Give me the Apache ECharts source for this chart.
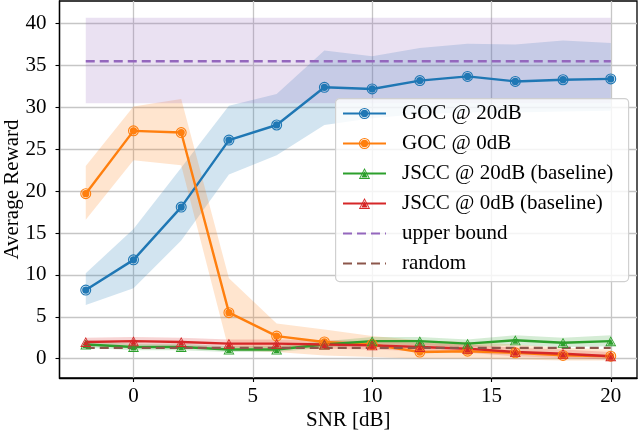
<!DOCTYPE html>
<html><head><meta charset="utf-8">
<script src="https://cdn.jsdelivr.net/npm/echarts@6/dist/echarts.min.js"></script>
<style>html,body{margin:0;padding:0;background:#fff}#c{width:640px;height:436px}</style>
</head><body><div id="c"></div>
<script>
// ---- data ----
const snr = [-2, 0, 2, 4, 6, 8, 10, 12, 14, 16, 18, 20];
const xTicks = [0, 5, 10, 15, 20];
const yTicks = [0, 5, 10, 15, 20, 25, 30, 35, 40];

const goc20 = [8.2, 11.8, 18.1, 26.1, 27.9, 32.4, 32.2, 33.2, 33.7, 33.1, 33.3, 33.4];
const goc20Lo = [6.4, 8.4, 14.1, 22.0, 24.3, 27.9, 28.7, 29.2, 29.4, 29.4, 29.5, 29.6];
const goc20Hi = [10.2, 15.5, 22.8, 30.2, 31.6, 36.8, 36.1, 37.1, 37.6, 37.5, 38.0, 37.7];

const goc0 = [19.7, 27.2, 27.0, 5.5, 2.7, 2.0, 1.7, 0.8, 0.9, 0.7, 0.4, 0.3];
const goc0Lo = [16.6, 23.7, 23.1, 1.0, 0.8, 0.4, 0.2, 0.0, 0.0, -0.1, -0.2, -0.2];
const goc0Hi = [23.0, 30.1, 31.0, 9.6, 4.2, 3.5, 2.7, 2.2, 2.0, 1.7, 1.3, 1.1];

const jscc20 = [1.7, 1.4, 1.4, 1.1, 1.1, 1.7, 2.1, 2.1, 1.8, 2.2, 1.9, 2.1];
const jscc20Lo = [1.3, 1.0, 1.0, 0.8, 0.8, 1.3, 1.6, 1.6, 1.4, 1.6, 1.4, 1.5];
const jscc20Hi = [2.2, 1.8, 1.8, 1.5, 1.5, 2.1, 2.6, 2.6, 2.3, 2.8, 2.5, 2.8];

const jscc0 = [2.0, 2.1, 2.0, 1.8, 1.8, 1.7, 1.6, 1.4, 1.2, 0.8, 0.6, 0.3];
const jscc0Lo = [1.5, 1.6, 1.5, 1.3, 1.3, 1.2, 1.1, 0.9, 0.7, 0.3, 0.1, -0.1];
const jscc0Hi = [2.5, 2.6, 2.5, 2.3, 2.3, 2.2, 2.1, 1.9, 1.7, 1.3, 1.1, 0.8];

const upperBound = [35.5, 35.5];
const upperBoundLo = [30.5, 30.5];
const upperBoundHi = [40.7, 40.7];
const boundX = [-2, 20];
const randomVal = [1.3, 1.3];

const names = ['GOC @ 20dB', 'GOC @ 0dB', 'JSCC @ 20dB (baseline)', 'JSCC @ 0dB (baseline)', 'upper bound', 'random'];

// ---- styles ----
const FONT = "'Liberation Serif', 'DejaVu Serif', serif";
const FS = 21;
const C = {blue:'#1f77b4', orange:'#ff7f0e', green:'#2ca02c', red:'#d62728', purple:'#9467bd', brown:'#8c564b'};
const circleSym = 'path://M0,-10A10,10 0 1,1 0,10A10,10 0 1,1 0,-10Z M0,-8A8,8 0 1,0 0,8A8,8 0 1,0 0,-8Z M0,-6.6A6.6,6.6 0 1,1 0,6.6A6.6,6.6 0 1,1 0,-6.6Z';
const triSym = 'path://M0,-10L8.66,5L-8.66,5Z M0,-7.3L-6.32,3.65L6.32,3.65Z M0,-5.6L4.85,2.8L-4.85,2.8Z';

const pairs = (xs, ys) => xs.map((x, i) => [x, ys[i]]);

const bands = [
  {x: snr, lo: goc20Lo, hi: goc20Hi, fill: 'rgba(31,119,180,0.2)'},
  {x: snr, lo: goc0Lo, hi: goc0Hi, fill: 'rgba(255,127,14,0.2)'},
  {x: snr, lo: jscc20Lo, hi: jscc20Hi, fill: 'rgba(44,160,44,0.2)'},
  {x: snr, lo: jscc0Lo, hi: jscc0Hi, fill: 'rgba(214,39,40,0.2)'},
  {x: boundX, lo: upperBoundLo, hi: upperBoundHi, fill: 'rgba(148,103,189,0.2)'}
];

function lineSeries(name, data, color, sym, symSize) {
  return {
    name, type: 'line', data, z: 3,
    symbol: sym, symbolSize: symSize,
    lineStyle: {color, width: 2.4},
    itemStyle: {color},
    emphasis: {disabled: true}
  };
}

const chart = echarts.init(document.getElementById('c'), null, {renderer: 'canvas'});
chart.setOption({
  animation: false,
  backgroundColor: '#fff',
  textStyle: {fontFamily: FONT},
  grid: {left: 59.5, right: 3, top: 1, bottom: 58, show: true, borderColor: '#000', borderWidth: 1.3,
         containLabel: false, outerBoundsMode: 'none'},
  xAxis: {
    type: 'value', min: -3.1, max: 21.1,
    name: 'SNR [dB]', nameLocation: 'middle', nameGap: 32, nameMoveOverlap: false,
    nameTextStyle: {fontFamily: FONT, fontSize: FS, color: '#000'},
    axisLine: {show: true, onZero: false, lineStyle: {color: '#000', width: 1.3}},
    axisTick: {show: true, customValues: xTicks, length: 4, lineStyle: {color: '#000', width: 1.1}},
    axisLabel: {customValues: xTicks, fontFamily: FONT, fontSize: FS, color: '#000', margin: 8},
    splitLine: {show: true, lineStyle: {color: '#c6c6c6', width: 1.3}}
  },
  yAxis: {
    type: 'value', min: -2.3, max: 42.7,
    name: 'Average Reward', nameLocation: 'middle', nameGap: 37, nameRotate: 90, nameMoveOverlap: false,
    nameTextStyle: {fontFamily: FONT, fontSize: FS, color: '#000'},
    axisLine: {show: true, onZero: false, lineStyle: {color: '#000', width: 1.3}},
    axisTick: {show: true, customValues: yTicks, length: 4, lineStyle: {color: '#000', width: 1.1}},
    axisLabel: {customValues: yTicks, fontFamily: FONT, fontSize: FS, color: '#000', margin: 13},
    splitLine: {show: true, lineStyle: {color: '#c6c6c6', width: 1.3}}
  },
  graphic: [{
    type: 'rect', z: 5, left: 335, top: 98,
    shape: {width: 293, height: 183, r: 4},
    style: {fill: 'rgba(255,255,255,0.8)', stroke: '#d0d0d0', lineWidth: 1.2}
  }],
  legend: {
    data: names.map((n, i) => i >= 4 ? {name: n, itemStyle: {opacity: 0}} : {name: n}),
    orient: 'vertical', left: 335, top: 98, z: 10,
    padding: [5, 8, 6, 7], itemGap: 9, itemWidth: 43, itemHeight: 14,
    textStyle: {fontFamily: FONT, fontSize: FS, color: '#000', lineHeight: 20, padding: [0, 0, 0, 11]},
    selectedMode: false
  },
  series: [
    {
      type: 'custom', z: 1, silent: true,
      data: bands.map((b, i) => [b.x[0], b.lo[0], i]),
      renderItem: function (params, api) {
        const b = bands[params.dataIndex];
        const pts = [];
        for (let i = 0; i < b.x.length; i++) pts.push(api.coord([b.x[i], b.hi[i]]));
        for (let i = b.x.length - 1; i >= 0; i--) pts.push(api.coord([b.x[i], b.lo[i]]));
        return {type: 'polygon', shape: {points: pts}, style: {fill: b.fill}};
      }
    },
    lineSeries(names[0], pairs(snr, goc20), C.blue, circleSym, 11),
    lineSeries(names[1], pairs(snr, goc0), C.orange, circleSym, 11),
    lineSeries(names[2], pairs(snr, jscc20), C.green, triSym, [11, 10]),
    lineSeries(names[3], pairs(snr, jscc0), C.red, triSym, [11, 10]),
    {
      name: names[4], type: 'line', data: pairs(boundX, upperBound), z: 3, symbol: 'none',
      lineStyle: {color: C.purple, width: 2.4, type: [9, 5]}, itemStyle: {color: C.purple}
    },
    {
      name: names[5], type: 'line', data: pairs(boundX, randomVal), z: 3, symbol: 'none',
      lineStyle: {color: C.brown, width: 2.4, type: [9, 5]}, itemStyle: {color: C.brown}
    }
  ]
});
</script>
</body></html>
